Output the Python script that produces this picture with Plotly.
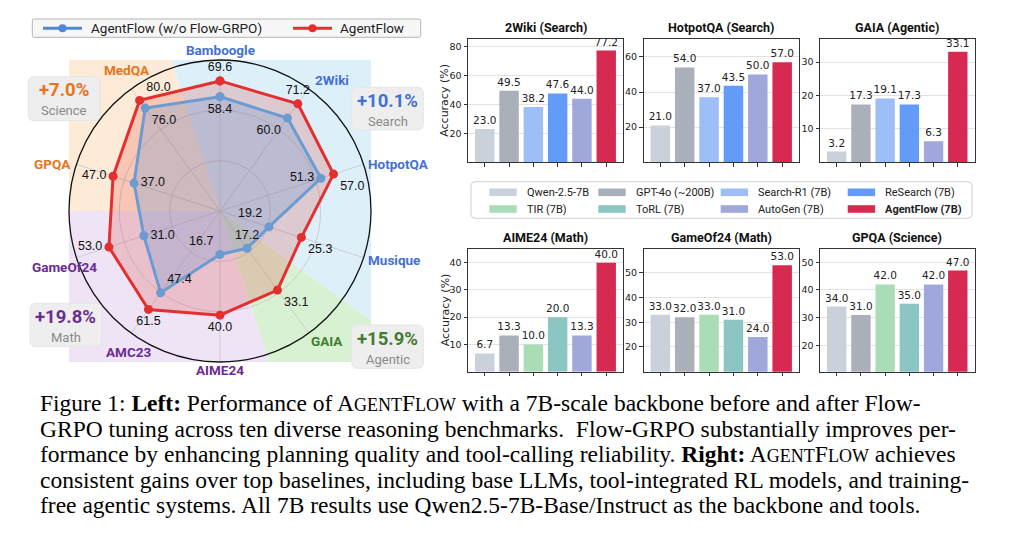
import math
import plotly.graph_objects as go

W, H = 1010, 539

# ---------------- radar data ----------------
radar_axes = ["Bamboogle", "2Wiki", "HotpotQA", "Musique", "GAIA",
              "AIME24", "AMC23", "GameOf24", "GPQA", "MedQA"]
radar_groups = ["Search", "Search", "Search", "Search", "Agentic",
                "Math", "Math", "Math", "Science", "Science"]
agentflow_base = [58.4, 60.0, 51.3, 19.2, 17.2, 16.7, 47.4, 31.0, 37.0, 76.0]
agentflow_full = [69.6, 71.2, 57.0, 25.3, 33.1, 40.0, 61.5, 53.0, 47.0, 80.0]
# per-axis scale of the radar (value at centre, value at outer circle)
axis_lo = [-23.0, -13.0, 6.0, 10.0, 3.0, 0.0, -21.5, -17.0, -4.0, 22.5]
axis_hi = [84.5, 83.0, 70.5, 37.0, 49.5, 58.0, 81.5, 73.5, 64.5, 86.0]

gain_groups = ["Science", "Search", "Math", "Agentic"]
gain_values = [7.0, 10.1, 19.8, 15.9]

# ---------------- bar data ----------------
search_models = ["Qwen-2.5-7B", "GPT-4o (~200B)", "Search-R1 (7B)",
                 "ReSearch (7B)", "AutoGen (7B)", "AgentFlow (7B)"]
math_models = ["Qwen-2.5-7B", "GPT-4o (~200B)", "TIR (7B)",
               "ToRL (7B)", "AutoGen (7B)", "AgentFlow (7B)"]
legend_models = ["Qwen-2.5-7B", "GPT-4o (~200B)", "Search-R1 (7B)", "ReSearch (7B)",
                 "TIR (7B)", "ToRL (7B)", "AutoGen (7B)", "AgentFlow (7B)"]
bench_titles = ["2Wiki (Search)", "HotpotQA (Search)", "GAIA (Agentic)",
                "AIME24 (Math)", "GameOf24 (Math)", "GPQA (Science)"]
wiki2_vals = [23.0, 49.5, 38.2, 47.6, 44.0, 77.2]
hotpot_vals = [21.0, 54.0, 37.0, 43.5, 50.0, 57.0]
gaia_vals = [3.2, 17.3, 19.1, 17.3, 6.3, 33.1]
aime_vals = [6.7, 13.3, 10.0, 20.0, 13.3, 40.0]
game24_vals = [33.0, 32.0, 33.0, 31.0, 24.0, 53.0]
gpqa_vals = [34.0, 31.0, 42.0, 35.0, 42.0, 47.0]
y_ranges = [[0, 85], [0, 70], [0, 36.8], [0, 45], [10, 59.6], [10.5, 54.8]]
y_ticks = [[20, 40, 60, 80], [20, 40, 60], [10, 20, 30],
           [10, 20, 30, 40], [20, 30, 40, 50], [20, 30, 40, 50]]

SC = '<span style="font-size:18px">'
caption_lines = [
    f'Figure 1: <b>Left:</b> Performance of A{SC}GENT</span>F{SC}LOW</span> with a 7B-scale backbone before and after Flow-',
    'GRPO tuning across ten diverse reasoning benchmarks.  Flow-GRPO substantially improves per-',
    f'formance by enhancing planning quality and tool-calling reliability. <b>Right:</b> A{SC}GENT</span>F{SC}LOW</span> achieves',
    'consistent gains over top baselines, including base LLMs, tool-integrated RL models, and training-',
    'free agentic systems. All 7B results use Qwen2.5-7B-Base/Instruct as the backbone and tools.',
]

# ---------------- styles ----------------
model_colors = {
    "Qwen-2.5-7B": "#c9d1da", "GPT-4o (~200B)": "#a9b0b9",
    "Search-R1 (7B)": "#9dbef6", "ReSearch (7B)": "#629cf8",
    "TIR (7B)": "#aadcb6", "ToRL (7B)": "#8bc6c2",
    "AutoGen (7B)": "#a0a7db", "AgentFlow (7B)": "#d72a51",
}
group_bg = {"Search": "#ddf0fa", "Agentic": "#d8f1d2", "Math": "#eee4f6", "Science": "#fdebd7"}
group_fg = {"Search": "#4371d3", "Agentic": "#3f7d30", "Math": "#6a2c93", "Science": "#e8741c"}
UI = "Roboto"


def X(px):
    return px / W


def Y(py):
    return 1 - py / H


fig = go.Figure()
shapes = []
annotations = []

# ---------------- radar ----------------
CX, CY, R = 220.0, 211.0, 151.0
step = 360 / len(radar_axes)
theta = [i * step for i in range(len(radar_axes))]

for g in ["Search", "Agentic", "Math", "Science"]:
    idx = [i for i, gg in enumerate(radar_groups) if gg == g]
    a0 = min(idx) * step - step / 2
    a1 = max(idx) * step + step / 2
    angs = [a0] + [c for c in (-45, 45, 135, 225, 315) if a0 < c < a1] + [a1]
    pts = [(CX, CY)]
    for a in angs:
        s, c = math.sin(math.radians(a)), math.cos(math.radians(a))
        d = R / max(abs(s), abs(c))
        pts.append((CX + d * s, CY - d * c))
    path = "M " + " L ".join(f"{X(px):.5f},{Y(py):.5f}" for px, py in pts) + " Z"
    shapes.append(dict(type="path", path=path, xref="paper", yref="paper",
                       fillcolor=group_bg[g], line=dict(width=0), layer="below"))


def norm(vals):
    return [(v - lo) / (hi - lo) for v, lo, hi in zip(vals, axis_lo, axis_hi)]


red_pos = ["top center", "top center", "bottom right", "bottom right", "bottom right",
           "bottom center", "bottom center", "middle left", "middle left", "top right"]
blue_pos = ["bottom center", "bottom left", "middle left", "top left", "top center",
            "top left", "top right", "middle right", "middle right", "bottom right"]

series = [
    ("AgentFlow", agentflow_full, "#e3302f", "rgba(227,48,47,0.20)", red_pos),
    ("AgentFlow (w/o Flow-GRPO)", agentflow_base, "#6c9bd2", "rgba(100,150,210,0.28)", blue_pos),
]
for name, vals, lc, fc, pos in series:
    r = norm(vals)
    fig.add_trace(go.Scatterpolar(
        r=r + [r[0]], theta=theta + [theta[0]], name=name,
        mode="lines+markers+text", fill="toself", fillcolor=fc,
        line=dict(color=lc, width=3), marker=dict(color=lc, size=9),
        text=[f"{v:.1f}" for v in vals] + [""], textposition=pos + ["top center"],
        textfont=dict(family="Liberation Sans", size=12.5, color="#111"),
        cliponaxis=False, showlegend=False, hoverinfo="skip"))

# category labels around the circle (placed from polar geometry)
label_r = [1.066, 1.140, 1.222, 1.197, 1.115, 1.053, 1.115, 1.091, 1.153, 1.117]
label_dtheta = [0, 4.5, 3.3, -2.3, -3.5, 0, -3.0, -1.8, -2.4, 2.7]
for name, g, t, dt, lr in zip(radar_axes, radar_groups, theta, label_dtheta, label_r):
    a = math.radians(t + dt)
    annotations.append(dict(x=X(CX + lr * R * math.sin(a)), y=Y(CY - lr * R * math.cos(a)),
                            xref="paper", yref="paper", text=f"<b>{name}</b>", showarrow=False,
                            xanchor="center", yanchor="middle",
                            font=dict(family=UI, size=13.5, color=group_fg[g])))

polar = dict(
    domain=dict(x=[X(CX - R), X(CX + R)], y=[Y(CY + R), Y(CY - R)]),
    bgcolor="rgba(0,0,0,0)",
    angularaxis=dict(rotation=90, direction="clockwise", thetaunit="degrees",
                     tickmode="array", tickvals=theta, showticklabels=False, ticks="",
                     showline=True, linecolor="#111", linewidth=1.3,
                     showgrid=True, gridcolor="#cdcdcd", gridwidth=0.8),
    radialaxis=dict(range=[0, 1], tickmode="array", tickvals=[1 / 3, 2 / 3],
                    showticklabels=False, ticks="", showline=False,
                    showgrid=True, gridcolor="#cdcdcd", gridwidth=0.8),
)


def rounded(x0, y0, x1, y1, rr):
    p = [("M", x0 + rr, y0), ("L", x1 - rr, y0), ("Q", x1, y0, x1, y0 + rr),
         ("L", x1, y1 - rr), ("Q", x1, y1, x1 - rr, y1), ("L", x0 + rr, y1),
         ("Q", x0, y1, x0, y1 - rr), ("L", x0, y0 + rr), ("Q", x0, y0, x0 + rr, y0)]
    out = []
    for seg in p:
        coords = seg[1:]
        pairs = [f"{X(coords[i]):.5f},{Y(coords[i + 1]):.5f}" for i in range(0, len(coords), 2)]
        out.append(seg[0] + " " + " ".join(pairs))
    return " ".join(out) + " Z"


# radar legend (manual)
shapes.append(dict(type="path", path=rounded(32.3, 19, 420.7, 37.3, 2), xref="paper", yref="paper",
                   fillcolor="#f7f7f7", line=dict(color="#b5b5b5", width=1)))
for (lx0, lx1, tx, col, txt) in [(43, 82, 89, "#4f86d6", "AgentFlow (w/o Flow-GRPO)"),
                                  (293, 332, 338, "#e3302f", "AgentFlow")]:
    shapes.append(dict(type="line", x0=X(lx0), x1=X(lx1), y0=Y(28.2), y1=Y(28.2),
                       xref="paper", yref="paper", line=dict(color=col, width=3)))
    mx = (lx0 + lx1) / 2
    shapes.append(dict(type="circle", x0=X(mx - 4), x1=X(mx + 4), y0=Y(32.2), y1=Y(24.2),
                       xref="paper", yref="paper", fillcolor=col, line=dict(width=0)))
    annotations.append(dict(x=X(tx), y=Y(28.2), xref="paper", yref="paper", text=txt,
                            showarrow=False, xanchor="left", yanchor="middle",
                            font=dict(family=UI, size=13.5, color="#222")))

# gain boxes
gain_boxes = {"Science": (28.3, 76.7, 100, 120.7), "Search": (351.7, 87.3, 423.3, 130),
              "Math": (30, 303.3, 101.7, 346.7), "Agentic": (351.7, 325, 423.3, 368.3)}
for g, val in zip(gain_groups, gain_values):
    bx0, by0, bx1, by1 = gain_boxes[g]
    shapes.append(dict(type="path", path=rounded(bx0, by0, bx1, by1, 6), xref="paper", yref="paper",
                       fillcolor="#eeeeee", line=dict(color="#e6e6e6", width=1)))
    cxm = (bx0 + bx1) / 2
    annotations.append(dict(x=X(cxm), y=Y(by0 + 13.5), xref="paper", yref="paper",
                            text=f"<b>+{val:.1f}%</b>", showarrow=False,
                            xanchor="center", yanchor="middle",
                            font=dict(family=UI, size=18.5, color=group_fg[g])))
    annotations.append(dict(x=X(cxm), y=Y(by0 + 34), xref="paper", yref="paper",
                            text=g, showarrow=False, xanchor="center", yanchor="middle",
                            font=dict(family=UI, size=13, color="#8a8a8a")))

# ---------------- bars ----------------
bar_sets = [
    (search_models, wiki2_vals), (search_models, hotpot_vals), (search_models, gaia_vals),
    (math_models, aime_vals), (math_models, game24_vals), (math_models, gpqa_vals),
]
col_x = [(468, 623), (643.5, 799), (820, 974.5)]
row_y = [(39.3, 162.3), (249, 371.7)]
title_y = [27.7, 237.7]
layout_axes = {}
for k, (models, vals) in enumerate(bar_sets):
    row, col = divmod(k, 3)
    n = k + 1
    xa = "x" if n == 1 else f"x{n}"
    ya = "y" if n == 1 else f"y{n}"
    fig.add_trace(go.Bar(
        x=models, y=vals, xaxis=xa, yaxis=ya, width=0.8,
        marker=dict(color=[model_colors[m] for m in models], line=dict(width=0)),
        texttemplate="%{y:.1f}", textposition="outside", constraintext="none",
        textfont=dict(family="DejaVu Sans", size=10.5, color="#222"),
        cliponaxis=False, showlegend=False, hoverinfo="skip"))
    x0, x1 = col_x[col]
    y0, y1 = row_y[row]
    layout_axes["xaxis" + ("" if n == 1 else str(n))] = dict(
        domain=[X(x0), X(x1)], anchor=ya, range=[-0.69, 5.69], type="category",
        showticklabels=False, ticks="outside", ticklen=3.5, tickcolor="#333",
        showline=True, mirror=True, linecolor="#333", linewidth=1,
        showgrid=False, zeroline=False)
    layout_axes["yaxis" + ("" if n == 1 else str(n))] = dict(
        domain=[Y(y1), Y(y0)], anchor=xa, range=y_ranges[k], tickmode="array",
        tickvals=y_ticks[k], ticks="outside", ticklen=3.5, tickcolor="#333",
        tickfont=dict(family="DejaVu Sans", size=9.5, color="#222"),
        showline=True, mirror=True, linecolor="#333", linewidth=1,
        showgrid=True, gridcolor="#e3e3e3", gridwidth=1, zeroline=False)
    annotations.append(dict(x=X((x0 + x1) / 2), y=Y(title_y[row]), xref="paper", yref="paper",
                            text=f"<b>{bench_titles[k]}</b>", showarrow=False,
                            xanchor="center", yanchor="middle",
                            font=dict(family=UI, size=12.5, color="#111")))
    if col == 0:
        annotations.append(dict(x=X(445), y=Y((y0 + y1) / 2), xref="paper", yref="paper",
                                text="Accuracy (%)", showarrow=False, textangle=-90,
                                xanchor="center", yanchor="middle",
                                font=dict(family="DejaVu Sans", size=11, color="#222")))

# bar legend (manual)
shapes.append(dict(type="path", path=rounded(471, 181.7, 972, 218.3, 4), xref="paper", yref="paper",
                   fillcolor="#ffffff", line=dict(color="#cfcfcf", width=1)))
sw_x = [489.3, 598.3, 720.7, 847.7]
rows_y = [192.3, 209]
for i, m in enumerate(legend_models):
    r_, c_ = divmod(i, 4)
    sx, sy = sw_x[c_], rows_y[r_]
    shapes.append(dict(type="rect", x0=X(sx), x1=X(sx + 27.4), y0=Y(sy + 3.8), y1=Y(sy - 3.8),
                       xref="paper", yref="paper", fillcolor=model_colors[m], line=dict(width=0)))
    label = f"<b>{m}</b>" if m == "AgentFlow (7B)" else m
    annotations.append(dict(x=X(sx + 35.5), y=Y(sy), xref="paper", yref="paper", text=label,
                            showarrow=False, xanchor="left", yanchor="middle",
                            font=dict(family=UI, size=11, color="#222")))

# ---------------- caption ----------------
cap_y = [403, 428.6, 454.2, 479.8, 505.4]
for line, cy in zip(caption_lines, cap_y):
    annotations.append(dict(x=X(38), y=Y(cy), xref="paper", yref="paper", text=line,
                            showarrow=False, xanchor="left", yanchor="middle",
                            font=dict(family="Liberation Serif", size=23.5, color="#000")))

fig.update_layout(
    width=W, height=H, margin=dict(l=0, r=0, t=0, b=0),
    paper_bgcolor="white", plot_bgcolor="rgba(0,0,0,0)",
    showlegend=False, polar=polar, shapes=shapes, annotations=annotations,
    bargap=0.2, **layout_axes)

fig.write_html("out.html", config={"displayModeBar": False},
               post_script="document.body.style.margin='0';document.body.style.overflow='hidden';")
